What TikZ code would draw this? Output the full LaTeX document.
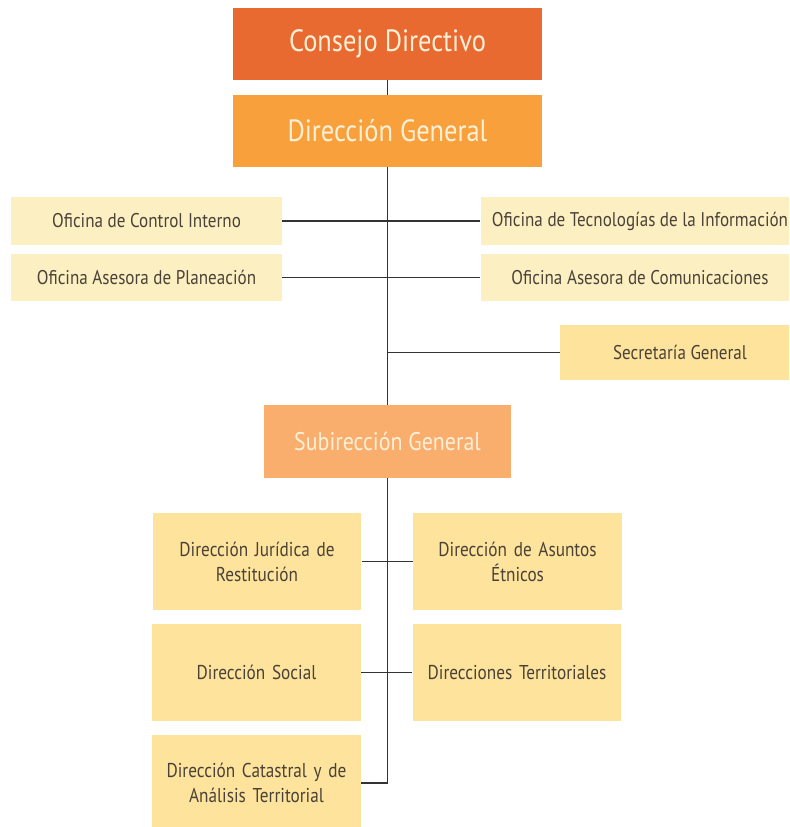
\documentclass[tikz,border=0pt]{standalone}
\usepackage{fontspec}
\setmainfont{PT Sans}[FakeStretch=0.86]
\definecolor{cdcol}{HTML}{E96A30}
\definecolor{dgcol}{HTML}{F8A13C}
\definecolor{sgcol}{HTML}{F9AE6E}
\definecolor{palecol}{HTML}{FCF0C2}
\definecolor{midcol}{HTML}{FDE39C}
\definecolor{lighttxt}{HTML}{FDF0D8}
\definecolor{darktxt}{HTML}{4A4238}
\definecolor{linecol}{HTML}{333333}
\tikzset{
  box/.style={rectangle, inner sep=0pt, align=center, draw=none},
  topbox/.style={box, minimum width=6.18cm, minimum height=1.44cm, text=lighttxt, font=\fontsize{17.5}{21}\selectfont},
  offbox/.style={box, fill=palecol, minimum height=0.95cm, text=darktxt, font=\fontsize{11.3}{13}\selectfont},
  lowbox/.style={box, fill=midcol, minimum width=4.18cm, minimum height=1.94cm, text width=4.1cm, text=darktxt, font=\fontsize{11.4}{14.2}\selectfont},
  conn/.style={draw=linecol, line width=0.7pt}
}
\begin{document}
\begin{tikzpicture}[x=0.02cm, y=-0.02cm]
\clip (0,0) rectangle (789,827);
\fill[white] (0,0) rectangle (789,827);
\node[topbox, fill=cdcol] (cd) at (387.5,44) {Consejo Directivo};
\node[topbox, fill=dgcol] (dg) at (387.5,131) {Dirección General};
\node[offbox, minimum width=5.42cm] (oci) at (146.5,221) {Oficina de Control Interno};
\node[offbox, minimum width=5.42cm] (oap) at (146.5,277.5) {Oficina Asesora de Planeación};
\node[offbox, minimum width=6.38cm] (oti) at (640,221) {Oficina de Tecnologías de la Información};
\node[offbox, minimum width=6.38cm] (oac) at (640,277.5) {Oficina Asesora de Comunicaciones};
\node[offbox, fill=midcol, minimum width=4.8cm, minimum height=1.1cm] (sg) at (680,352.5) {Secretaría General};
\node[box, fill=sgcol, minimum width=4.94cm, minimum height=1.46cm, text=lighttxt, font=\fontsize{14.5}{18}\selectfont] (sub) at (387.5,441.5) {Subirección General};
\node[lowbox] (djr) at (257,561.5) {Dirección Jurídica de\\Restitución};
\node[lowbox] (dae) at (517.5,561.5) {Dirección de Asuntos\\Étnicos};
\node[lowbox] (ds) at (256.5,672.5) {Dirección Social};
\node[lowbox] (dt) at (517,672.5) {Direcciones Territoriales};
\node[lowbox] (dc) at (256.5,783) {Dirección Catastral y de\\Análisis Territorial};
\draw[conn] (cd.south) -- (dg.north);
\draw[conn] (dg.south) -- (sub.north);
\draw[conn] (oci.east) -- (oti.west);
\draw[conn] (oap.east) -- (oac.west);
\draw[conn] (sg.west) -- (sg.west -| dg.south);
\draw[conn] (djr.east) -- (dae.west);
\draw[conn] (ds.east) -- (dt.west);
\draw[conn] (sub.south) |- (dc.east);
\end{tikzpicture}
\end{document}
